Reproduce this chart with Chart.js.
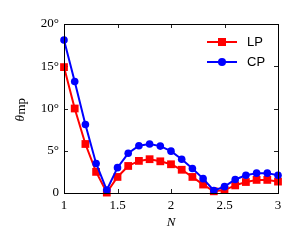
<!DOCTYPE html>
<html><head><meta charset="utf-8">
<script src="https://cdn.jsdelivr.net/npm/chart.js@4/dist/chart.umd.min.js"></script>
<style>html,body{margin:0;padding:0;background:#fff}#wrap{width:300px;height:250px}</style>
</head><body><div id="wrap"><canvas id="c" width="300" height="250"></canvas></div>
<script>
const N = [1.0,1.1,1.2,1.3,1.4,1.5,1.6,1.7,1.8,1.9,2.0,2.1,2.2,2.3,2.4,2.5,2.6,2.7,2.8,2.9,3.0];
const LP = [14.9,10.0,5.8,2.5,0.05,1.9,3.2,3.8,4.0,3.75,3.4,2.75,1.9,1.0,0.2,0.35,0.9,1.3,1.55,1.55,1.35];
const CP = [18.1,13.2,8.1,3.5,0.35,3.0,4.7,5.6,5.8,5.55,4.95,4.0,2.9,1.7,0.3,0.75,1.6,2.1,2.35,2.35,2.1];
const xTicks = [1,1.5,2,2.5,3];
const yTicks = [0,5,10,15,20];
const seriesNames = ['LP','CP'];

const serif = "'Liberation Serif', 'DejaVu Serif', serif";
const sans = "'Liberation Sans', Arial, sans-serif";

const framePlugin = {
  id:'frame',
  beforeDatasetsDraw(chart){
    const {ctx, chartArea:a, scales:{x,y}} = chart;
    ctx.save();
    ctx.strokeStyle='#222'; ctx.lineWidth=1;
    ctx.beginPath();
    xTicks.slice(1,-1).forEach(v=>{
      const px=Math.round(x.getPixelForValue(v))+0.5;
      ctx.moveTo(px,a.bottom); ctx.lineTo(px,a.bottom-4);
      ctx.moveTo(px,a.top); ctx.lineTo(px,a.top+4);
    });
    yTicks.slice(1,-1).forEach(v=>{
      const py=Math.round(y.getPixelForValue(v))+0.5;
      ctx.moveTo(a.left,py); ctx.lineTo(a.left+4,py);
      ctx.moveTo(a.right,py); ctx.lineTo(a.right-4,py);
    });
    ctx.stroke();
    ctx.restore();
  },
  afterDraw(chart){
    const {ctx, chartArea:a} = chart;
    ctx.save();
    ctx.strokeStyle='#000'; ctx.lineWidth=1;
    ctx.strokeRect(Math.round(a.left)+0.5, Math.round(a.top)+0.5, Math.round(a.right-a.left), Math.round(a.bottom-a.top));
    // legend
    const ds = chart.data.datasets;
    const ys=[42,62];
    ds.forEach((d,i)=>{
      const yy=ys[i];
      ctx.strokeStyle=d.borderColor; ctx.lineWidth=2;
      ctx.beginPath(); ctx.moveTo(207,yy); ctx.lineTo(237,yy); ctx.stroke();
      ctx.fillStyle=d.backgroundColor;
      if(d.pointStyle==='rect'){ ctx.fillRect(222-4,yy-4,8,8); }
      else { ctx.beginPath(); ctx.arc(222,yy,4,0,Math.PI*2); ctx.fill(); }
      ctx.fillStyle='#000'; ctx.font='13px '+sans; ctx.textBaseline='middle'; ctx.textAlign='left';
      ctx.fillText(seriesNames[i],247,yy+0.5);
    });
    // axis titles
    ctx.fillStyle='#000';
    ctx.font='italic 13px '+serif; ctx.textAlign='center'; ctx.textBaseline='middle';
    ctx.fillText('N',171,223);
    ctx.translate(21,110); ctx.rotate(-Math.PI/2);
    ctx.textAlign='left';
    ctx.font='italic 13px '+serif;
    const w1=ctx.measureText('θ').width;
    ctx.font='13px '+serif;
    const w2=ctx.measureText('mp').width;
    const start=-(w1+w2)/2;
    ctx.font='italic 13px '+serif;
    ctx.fillText('θ',start,0);
    ctx.font='13px '+serif;
    ctx.fillText('mp',start+w1+0.5,1);
    ctx.restore();
  }
};

new Chart(document.getElementById('c'),{
  type:'line',
  data:{datasets:[
    {label:seriesNames[0],data:N.map((n,i)=>({x:n,y:LP[i]})),borderColor:'#ff0000',backgroundColor:'#ff0000',
     pointStyle:'rect',pointRadius:5.5,pointHoverRadius:5.5,borderWidth:2,pointBorderWidth:0,order:1,clip:false},
    {label:seriesNames[1],data:N.map((n,i)=>({x:n,y:CP[i]})),borderColor:'#0000ff',backgroundColor:'#0000ff',
     pointStyle:'circle',pointRadius:3.8,pointHoverRadius:3.8,borderWidth:2,pointBorderWidth:0,order:0,clip:false}
  ]},
  options:{
    responsive:false,animation:false,
    layout:{padding:{left:0,right:22,top:24,bottom:0}},
    plugins:{legend:{display:false},tooltip:{enabled:false}},
    scales:{
      x:{type:'linear',min:1,max:3,
        afterBuildTicks(s){s.ticks=xTicks.map(v=>({value:v}));},
        afterFit(s){s.height=57;},
        grid:{display:false,drawTicks:false},border:{display:false},
        ticks:{padding:5,color:'#000',font:{family:serif,size:13},maxRotation:0,
          callback:v=>String(v)}},
      y:{min:0,max:20,
        afterBuildTicks(s){s.ticks=yTicks.map(v=>({value:v}));},
        afterFit(s){s.width=64;},
        grid:{display:false,drawTicks:false},border:{display:false},
        ticks:{padding:5,color:'#000',font:{family:serif,size:13},
          callback:v=>v===0?'0':v+'°'}}
    }
  },
  plugins:[framePlugin]
});
</script></body></html>
